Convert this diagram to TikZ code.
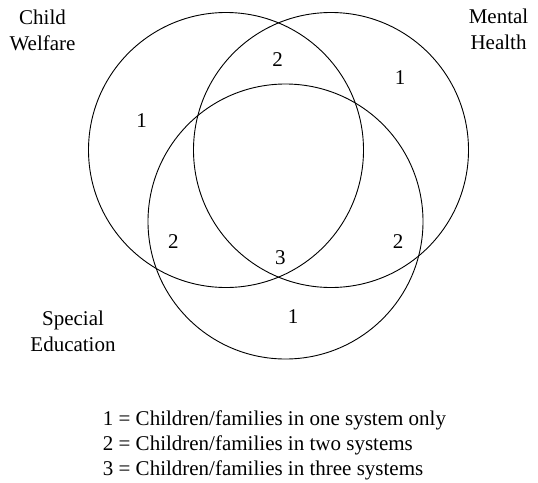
\documentclass[tikz,border=0pt]{standalone}
\usepackage{fontspec}
\setmainfont{Liberation Serif}
\begin{document}
\begin{tikzpicture}[x=1pt,y=-1pt,
  ring/.style={draw=black, line width=0.9pt},
  lbl/.style={font=\fontsize{21}{25.8}\selectfont, inner sep=0pt, align=center, anchor=base},
  num/.style={font=\fontsize{21}{25.5}\selectfont, inner sep=0pt, anchor=base},
  keytext/.style={font=\fontsize{21}{25}\selectfont, inner sep=0pt, align=left, anchor=base west}]
\useasboundingbox (0,0) rectangle (538,482);
% circles
\node[ring, circle, minimum size=275pt, inner sep=0pt] (cwc) at (226,150) {};
\node[ring, circle, minimum size=275pt, inner sep=0pt] (mhc) at (331,150) {};
\node[ring, circle, minimum size=275pt, inner sep=0pt] (sec) at (285.5,221.5) {};
% labels (anchored at the baseline of the last line)
\node[lbl] (cw) at (42.5,50) {Child\\Welfare};
\node[lbl] (mh) at (498.5,49.5) {Mental\\Health};
\node[lbl] (se) at (73,351) {Special\\Education};
% region numbers
\node[num] (n1a) at (141.7,127.3) {1};
\node[num] (n2a) at (277.7,66.7) {2};
\node[num] (n1b) at (400,84.3) {1};
\node[num] (n2b) at (173.4,248.5) {2};
\node[num] (n3) at (280.3,264) {3};
\node[num] (n2c) at (398,248.3) {2};
\node[num] (n1c) at (293,323.3) {1};
% key
\node[keytext] (key) at (102.7,475.7) {1 = Children/families in one system only\\2 = Children/families in two systems\\3 = Children/families in three systems};
\end{tikzpicture}
\end{document}
